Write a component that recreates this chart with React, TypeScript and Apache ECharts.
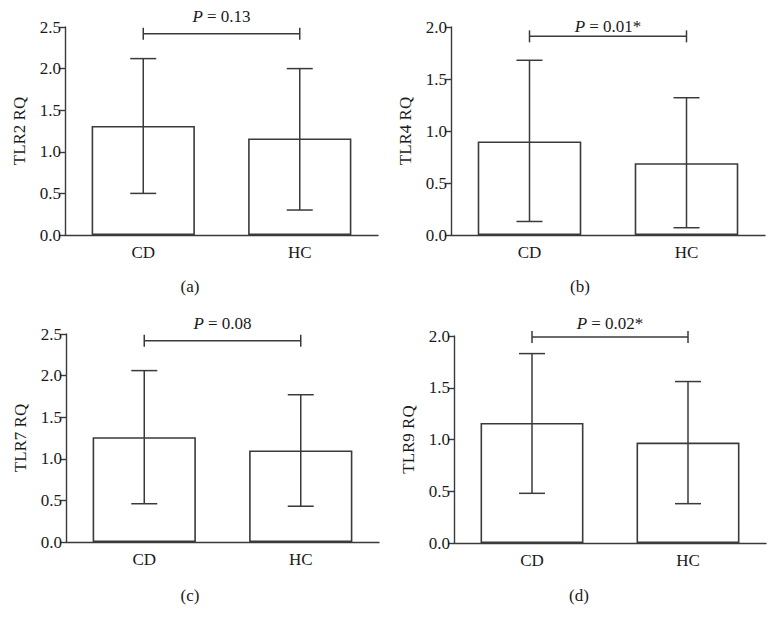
import React, { useEffect, useRef } from "react";
import * as echarts from "echarts";

const categories = ["CD", "HC"];

const tlr2Mean = [1.31, 1.16];
const tlr2Upper = [2.12, 2.0];
const tlr2Lower = [0.5, 0.3];

const tlr4Mean = [0.9, 0.69];
const tlr4Upper = [1.68, 1.32];
const tlr4Lower = [0.13, 0.07];

const tlr7Mean = [1.26, 1.1];
const tlr7Upper = [2.06, 1.77];
const tlr7Lower = [0.46, 0.43];

const tlr9Mean = [1.16, 0.97];
const tlr9Upper = [1.83, 1.56];
const tlr9Lower = [0.48, 0.38];

const yMaxes = [2.5, 2.0, 2.5, 2.0];
const yTicks = ["0.0", "0.5", "1.0", "1.5", "2.0", "2.5"];
const yNames = ["TLR2 RQ", "TLR4 RQ", "TLR7 RQ", "TLR9 RQ"];
const pValues = ["0.13", "0.01*", "0.08", "0.02*"];
const bracketLevels = [2.42, 1.91, 2.42, 1.99];
const panelLetters = ["(a)", "(b)", "(c)", "(d)"];

const INK = "#3a3a3a";
const TXT = "#1a1a1a";
const FONT = "'Liberation Serif', 'Times New Roman', serif";
const FS = 17;

export default function App() {
  const ref = useRef<HTMLDivElement>(null);
  useEffect(() => {
    if (!ref.current) return;
    const chart = echarts.init(ref.current, undefined, { renderer: "svg" });

    const panels = [
      { mean: tlr2Mean, up: tlr2Upper, lo: tlr2Lower },
      { mean: tlr4Mean, up: tlr4Upper, lo: tlr4Lower },
      { mean: tlr7Mean, up: tlr7Upper, lo: tlr7Lower },
      { mean: tlr9Mean, up: tlr9Upper, lo: tlr9Lower },
    ];
    const grids = [
      { left: 65, top: 27, width: 313, height: 208 },
      { left: 451, top: 27, width: 314, height: 208 },
      { left: 66, top: 334, width: 313, height: 208 },
      { left: 454, top: 336, width: 312, height: 207 },
    ];
    const textGaps = [17, 10, 17, 14];
    const letterPos = [
      [190, 286],
      [580, 286],
      [190, 595],
      [579, 595],
    ];

    const xAxis: any[] = [];
    const yAxis: any[] = [];
    const series: any[] = [];

    panels.forEach((p, i) => {
      xAxis.push({
        type: "category",
        gridIndex: i,
        data: categories,
        axisLine: { lineStyle: { color: INK, width: 1.4 } },
        axisTick: { alignWithLabel: true, length: 6, lineStyle: { color: INK, width: 1.4 } },
        axisLabel: { color: TXT, fontFamily: FONT, fontSize: FS, margin: 9 },
      });
      yAxis.push({
        type: "value",
        gridIndex: i,
        min: 0,
        max: yMaxes[i],
        interval: 0.5,
        name: yNames[i],
        nameLocation: "middle",
        nameGap: 37,
        nameTextStyle: { color: TXT, fontFamily: FONT, fontSize: FS },
        axisLine: { show: true, lineStyle: { color: INK, width: 1.4 } },
        axisTick: { show: true, length: 6, lineStyle: { color: INK, width: 1.4 } },
        axisLabel: {
          color: TXT,
          fontFamily: FONT,
          fontSize: FS,
          margin: 4,
          formatter: (v: number) => yTicks[Math.round(v / 0.5)] ?? v.toFixed(1),
        },
        splitLine: { show: false },
      });
      series.push({
        type: "bar",
        xAxisIndex: i,
        yAxisIndex: i,
        data: p.mean,
        barWidth: "66%",
        itemStyle: { color: "#ffffff", borderColor: INK, borderWidth: 1.6 },
        silent: true,
      });
      series.push({
        type: "custom",
        xAxisIndex: i,
        yAxisIndex: i,
        data: p.mean.map((_, k) => [k, p.lo[k], p.up[k]]),
        renderItem: (params: any, api: any) => {
          const x = api.value(0);
          const lo = api.coord([x, api.value(1)]);
          const hi = api.coord([x, api.value(2)]);
          const half = 13;
          const style = { stroke: INK, lineWidth: 1.5 };
          return {
            type: "group",
            children: [
              { type: "line", shape: { x1: lo[0], y1: lo[1], x2: hi[0], y2: hi[1] }, style },
              { type: "line", shape: { x1: hi[0] - half, y1: hi[1], x2: hi[0] + half, y2: hi[1] }, style },
              { type: "line", shape: { x1: lo[0] - half, y1: lo[1], x2: lo[0] + half, y2: lo[1] }, style },
            ],
          };
        },
        z: 5,
        silent: true,
      });
      const gap = textGaps[i];
      const pv = pValues[i];
      series.push({
        type: "custom",
        xAxisIndex: i,
        yAxisIndex: i,
        data: [[0, 1, bracketLevels[i]]],
        renderItem: (params: any, api: any) => {
          const a = api.coord([api.value(0), api.value(2)]);
          const b = api.coord([api.value(1), api.value(2)]);
          const style = { stroke: INK, lineWidth: 1.5 };
          return {
            type: "group",
            children: [
              { type: "line", shape: { x1: a[0], y1: a[1], x2: b[0], y2: b[1] }, style },
              { type: "line", shape: { x1: a[0], y1: a[1] - 6, x2: a[0], y2: a[1] + 6 }, style },
              { type: "line", shape: { x1: b[0], y1: b[1] - 6, x2: b[0], y2: b[1] + 6 }, style },
              {
                type: "text",
                style: {
                  x: (a[0] + b[0]) / 2,
                  y: a[1] - gap,
                  text: "{i|P} = " + pv,
                  align: "center",
                  verticalAlign: "middle",
                  fill: TXT,
                  font: FS + "px " + FONT,
                  rich: {
                    i: { fontStyle: "italic", fontFamily: FONT, fontSize: FS, fill: TXT },
                  },
                },
              },
            ],
          };
        },
        z: 5,
        silent: true,
      });
    });

    chart.setOption({
      animation: false,
      backgroundColor: "#ffffff",
      grid: grids,
      xAxis,
      yAxis,
      series,
      graphic: panelLetters.map((t, i) => ({
        type: "text",
        x: letterPos[i][0],
        y: letterPos[i][1],
        style: {
          text: t,
          fill: TXT,
          font: FS + "px " + FONT,
          textAlign: "center",
          textVerticalAlign: "middle",
        },
      })),
    });

    return () => chart.dispose();
  }, []);

  return (
    <div
      ref={ref}
      style={{ position: "absolute", left: 0, top: 0, width: 776, height: 626 }}
    />
  );
}
